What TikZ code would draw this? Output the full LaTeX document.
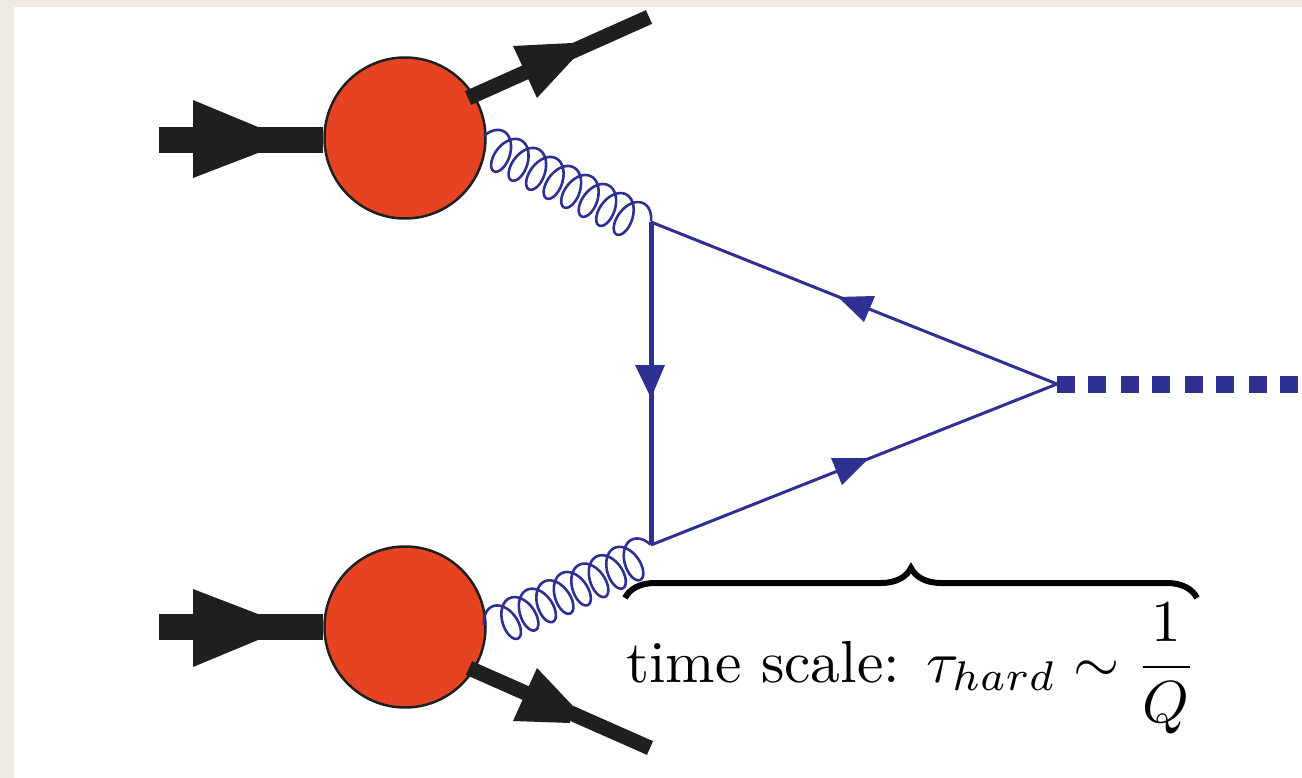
\documentclass[tikz,border=0pt]{standalone}
\usetikzlibrary{calc,decorations.pathreplacing}
\definecolor{bluefd}{HTML}{2E3192}
\definecolor{blobred}{HTML}{E64322}
\definecolor{beige}{HTML}{EEEAE2}
\definecolor{ink}{HTML}{1F1F1F}
\tikzset{
  blob/.style={circle,draw=ink,line width=2.5pt,fill=blobred,minimum size=161pt,inner sep=0pt},
  extline/.style={draw=ink,line width=#1},
  fermion/.style={draw=bluefd,line width=3pt},
  gluonline/.style={draw=bluefd,line width=2.6pt,line join=round},
}
\newcommand{\gluon}[2]{%
  \draw[gluonline] let \p1=(#1),\p2=(#2),\n1={veclen(\x2-\x1,\y2-\y1)} in
   plot[variable=\t,domain=0:1,samples=500,smooth]
   ({\x1+(\x2-\x1)*\t+(0pt-(\y2-\y1))/\n1*20*(cos(-70+3020*\t)-0.342)+(\x2-\x1)/\n1*12*(sin(-70+3020*\t)+0.94-1.88*\t)},
    {\y1+(\y2-\y1)*\t+(\x2-\x1)/\n1*20*(cos(-70+3020*\t)-0.342)+(\y2-\y1)/\n1*12*(sin(-70+3020*\t)+0.94-1.88*\t)});}
\begin{document}
\begin{tikzpicture}[x=1pt,y=-1pt]
\useasboundingbox (0,0) rectangle (1302,778);
\fill[beige] (0,0) rectangle (1302,778);
\fill[white] (14,7) rectangle (1302,778);
% coordinates
\coordinate (in1) at (159,140); \coordinate (in2) at (159,627);
\coordinate (out1) at (649,17); \coordinate (out2) at (650,748);
\coordinate (v1) at (651,222); \coordinate (v2) at (651,545);
\coordinate (vh) at (1057,384); \coordinate (hEnd) at (1302,384);
\coordinate (g1s) at (484,136); \coordinate (g2s) at (484,625);
\coordinate (br1) at (625,598); \coordinate (br2) at (1197,598);
\coordinate (o1) at (468,98); \coordinate (o2) at (469,668);
% external lines
\node[blob] (b1) at (405,138) {};
\node[blob] (b2) at (405,627) {};
\draw[extline=26pt] (in1) -- (b1.west |- in1);
\draw[extline=26pt] (in2) -- (b2.west |- in2);
\draw[extline=15pt] (o1) -- (out1);
\draw[extline=15pt] (o2) -- (out2);
\fill[ink] (193,100) -- (258,127) -- (258,153) -- (193,178) -- cycle;
\fill[ink] (193,589) -- (258,614) -- (258,640) -- (193,667) -- cycle;
\fill[ink] (513,46) -- (572,43) -- (575,57) -- (537,98) -- cycle;
\fill[ink] (537,668) -- (572,705) -- (570,723) -- (513,721) -- cycle;
% gluons
\gluon{g1s}{v1}
\gluon{g2s}{v2}
% fermions
\draw[fermion,line width=5pt] (v1) -- (v2);
\draw[fermion] (v1) -- (vh);
\draw[fermion] (v2) -- (vh);
\fill[bluefd] (635,365) -- (665,365) -- (651,398) -- cycle;
\fill[bluefd] (838,297) -- (875,296) -- (864,322) -- cycle;
\fill[bluefd] (831,458) -- (869,458) -- (842,485) -- cycle;
\draw[bluefd,line width=17pt,dash pattern=on 18pt off 13pt on 18pt off 15pt] (vh) -- (hEnd);
% brace
\draw[black,line width=6pt,decorate,decoration={brace,amplitude=30pt}] (br1) -- (br2);
\node[anchor=base west,scale=5.93,inner sep=0pt] (lbl) at (625,682) {time scale: $\tau_{hard}\sim\displaystyle\frac{1}{Q}$};
\end{tikzpicture}
\end{document}
